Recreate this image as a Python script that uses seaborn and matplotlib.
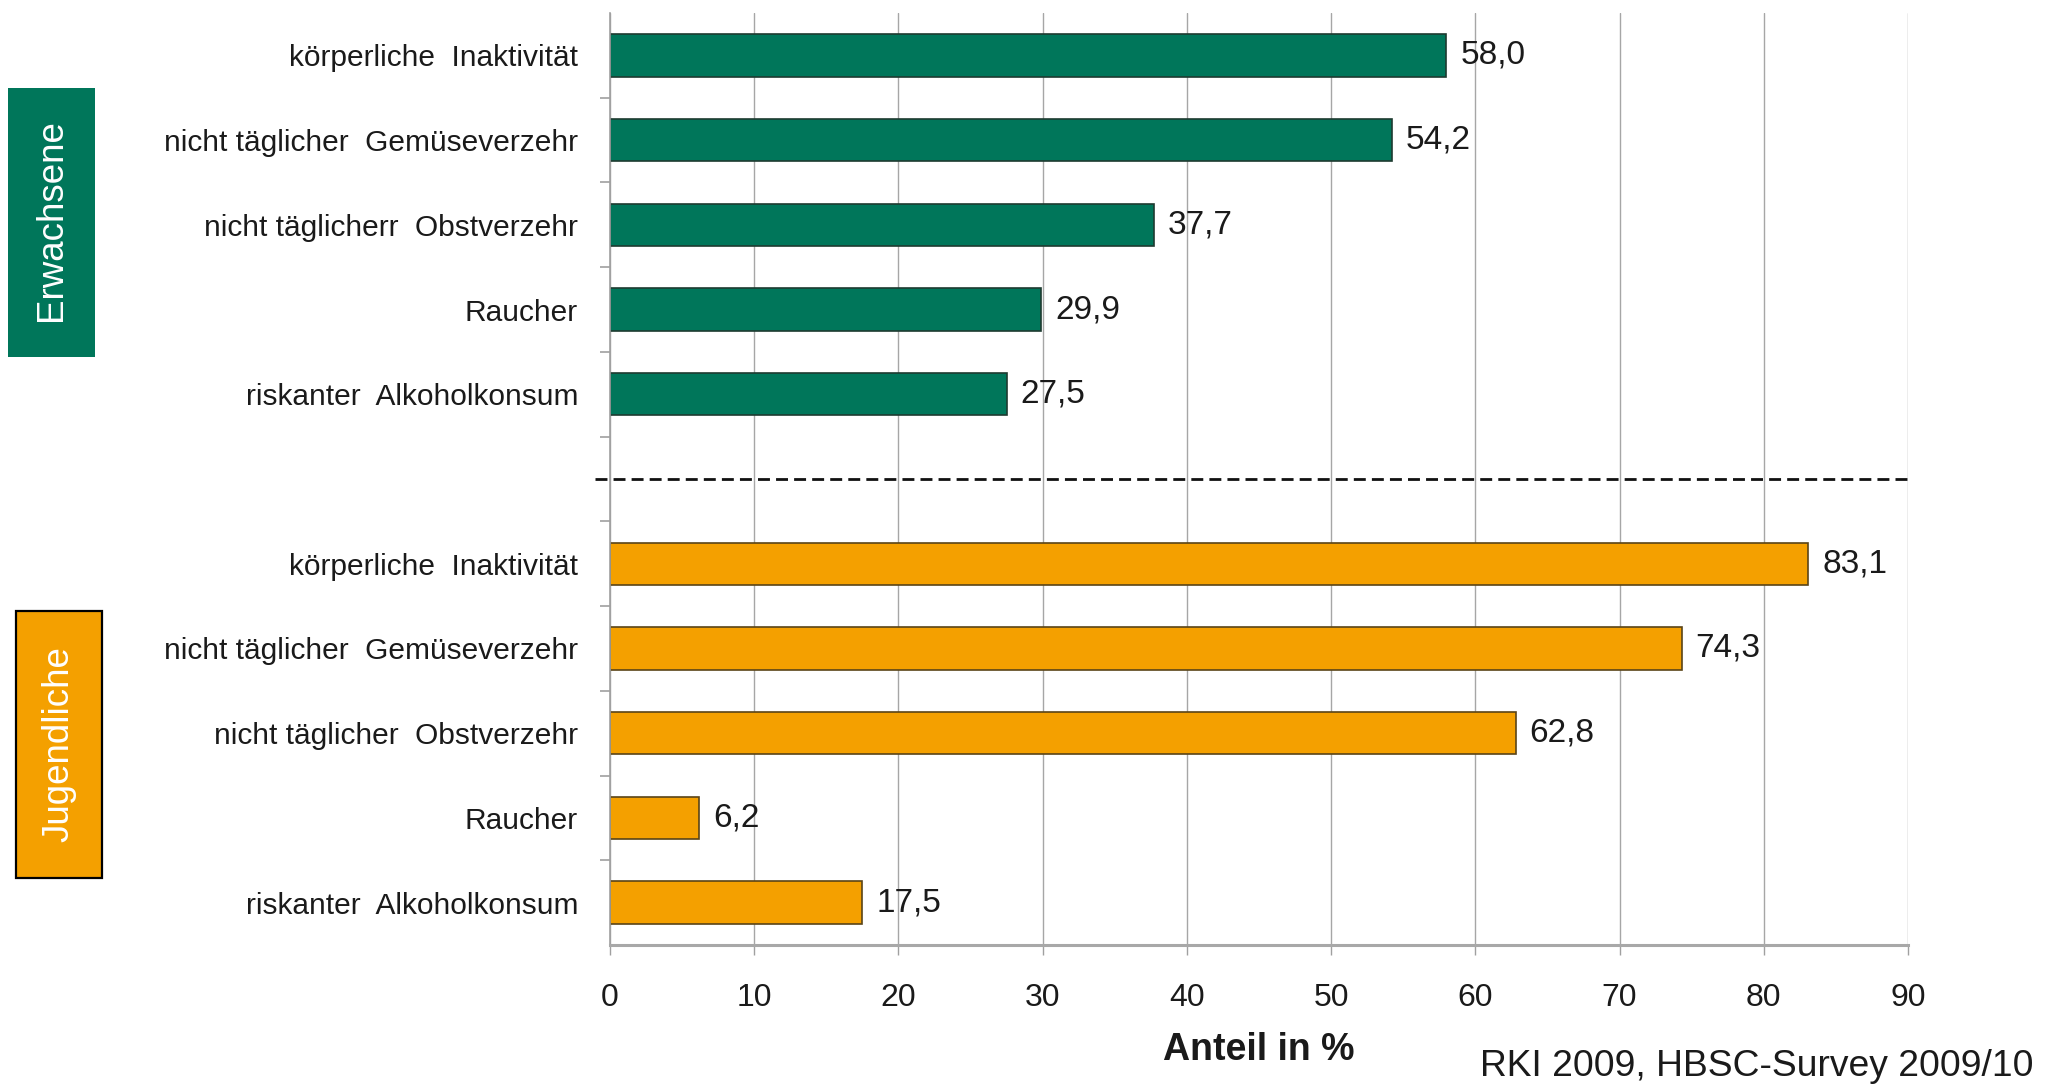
import matplotlib
matplotlib.use("Agg")
import matplotlib.pyplot as plt
from matplotlib.patches import Rectangle
from matplotlib.ticker import FixedLocator
import pandas as pd
import seaborn as sns

# | Data |
groups = ["Erwachsene", "Jugendliche"]
items_adults = ["körperliche  Inaktivität", "nicht täglicher  Gemüseverzehr",
                "nicht täglicherr  Obstverzehr", "Raucher", "riskanter  Alkoholkonsum"]
items_youth = ["körperliche  Inaktivität", "nicht täglicher  Gemüseverzehr",
               "nicht täglicher  Obstverzehr", "Raucher", "riskanter  Alkoholkonsum"]
values_adults = [58.0, 54.2, 37.7, 29.9, 27.5]
values_youth = [83.1, 74.3, 62.8, 6.2, 17.5]
x_ticks = [0, 10, 20, 30, 40, 50, 60, 70, 80, 90]
x_label = "Anteil in %"
source = "RKI 2009, HBSC-Survey 2009/10"

colors = {"Erwachsene": "#00765A", "Jugendliche": "#F4A000"}
edges = {"Erwachsene": "#1E3B30", "Jugendliche": "#5A4418"}

keys_adults = [f"E|{s}" for s in items_adults]
keys_youth = [f"J|{s}" for s in items_youth]
order = keys_adults + ["gap"] + keys_youth

df = pd.DataFrame({
    "key": keys_adults + keys_youth,
    "Anteil": values_adults + values_youth,
    "Gruppe": [groups[0]] * 5 + [groups[1]] * 5,
})

sns.set_style("white")
plt.rcParams["font.family"] = ["Liberation Sans", "DejaVu Sans"]

W, H = 2060, 1085
fig = plt.figure(figsize=(W / 100, H / 100), dpi=100)
ax = fig.add_axes([610 / W, 1 - 945 / H, 1298 / W, 932 / H])

sns.barplot(data=df, x="Anteil", y="key", hue="Gruppe", order=order,
            palette=colors, saturation=1, dodge=False, width=0.5, legend=False, ax=ax)

for cont, g in zip(ax.containers, groups):
    for p in cont:
        p.set_edgecolor(edges[g])
        p.set_linewidth(1.2)
    ax.bar_label(cont, labels=[f"{v:.1f}".replace(".", ",") for v in cont.datavalues],
                 padding=10, fontsize=24, color="#1a1a1a")

ax.set_xlim(0, 90)
ax.set_ylim(10.5, -0.5)
ax.set_xticks(x_ticks)
ax.set_xticklabels([str(t) for t in x_ticks], fontsize=23, color="#1a1a1a")
ax.set_yticks(range(len(order)))
ax.set_yticklabels(items_adults + [""] + items_youth, fontsize=21.5, color="#1a1a1a")
ax.yaxis.set_minor_locator(FixedLocator([i + 0.5 for i in range(10)]))
ax.tick_params(axis="y", which="major", length=0, pad=23)
ax.tick_params(axis="y", which="minor", length=7, width=1.2, color="#A0A0A0", left=True)
ax.tick_params(axis="x", which="major", length=7, width=1.0, color="#A0A0A0",
               bottom=True, pad=20)

ax.grid(axis="x", color="#A6A6A6", linewidth=1.0)
ax.grid(axis="y", visible=False)
ax.set_axisbelow(True)
for s in ["top", "right"]:
    ax.spines[s].set_visible(False)
ax.spines["left"].set_color("#A0A0A0")
ax.spines["left"].set_linewidth(1.2)
ax.spines["bottom"].set_color("#A8A8A8")
ax.spines["bottom"].set_linewidth(2.2)

ax.set_ylabel("")
ax.set_xlabel(x_label, fontsize=27, fontweight="bold", color="#1a1a1a", labelpad=14)

# dashed separator between the two groups
ax.hlines(order.index("gap"), -1.05, 90.2, colors="#111111", linewidth=2,
          linestyles=(0, (4.3, 2.2)), clip_on=False)

# group boxes
fig.add_artist(Rectangle((8 / W, 1 - 357 / H), 87 / W, 269 / H,
                         transform=fig.transFigure, facecolor=colors["Erwachsene"],
                         edgecolor="none"))
fig.text(51.5 / W, 1 - 220 / H, groups[0], rotation=90, ha="center", va="center",
         fontsize=26.5, color="white")
fig.add_artist(Rectangle((16 / W, 1 - 878 / H), 86 / W, 267 / H,
                         transform=fig.transFigure, facecolor=colors["Jugendliche"],
                         edgecolor="black", linewidth=1.6))
fig.text(59 / W, 1 - 744 / H, groups[1], rotation=90, ha="center", va="center",
         fontsize=26.5, color="white")

fig.text(2034 / W, 1 - 1066 / H, source, ha="right", va="center", fontsize=26.8,
         color="#1a1a1a")

fig.savefig("out.png", dpi=100, facecolor="white")
